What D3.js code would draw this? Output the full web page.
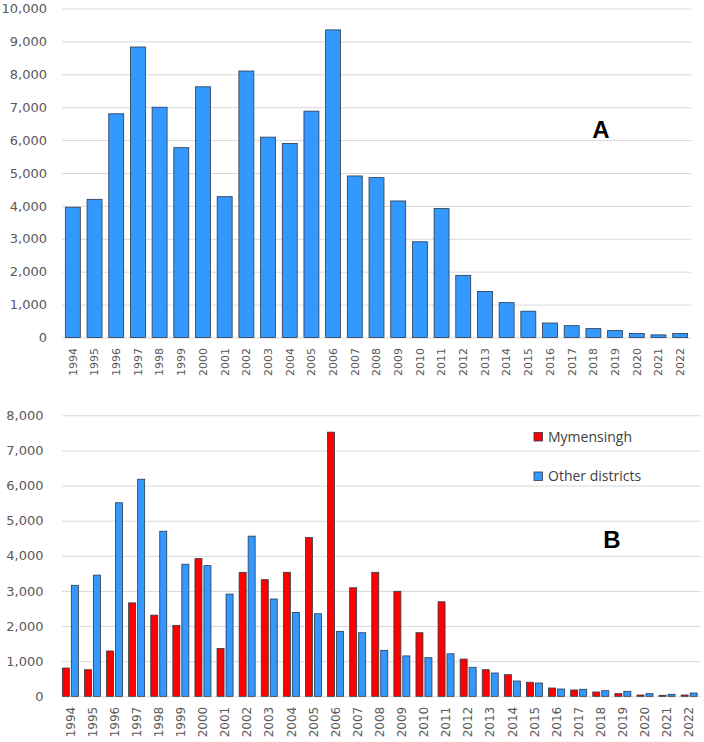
<!DOCTYPE html>
<html>
<head>
<meta charset="utf-8">
<script src="https://cdn.jsdelivr.net/npm/d3@7"></script>
<style>
  body { margin: 0; background: #fff; }
  .tick text { fill: #595959; font-family: "DejaVu Sans", sans-serif; }
  .grid line { stroke: #d9d9d9; }
</style>
</head>
<body>
<div id="chart"></div>
<script>
var years = [1994,1995,1996,1997,1998,1999,2000,2001,2002,2003,2004,2005,2006,2007,2008,
  2009,2010,2011,2012,2013,2014,2015,2016,2017,2018,2019,2020,2021,2022];

// panel A - all districts
var totalCases = [3960,4200,6800,8830,7000,5770,7620,4280,8100,6090,5900,6880,9350,4910,4860,
  4150,2910,3920,1890,1400,1060,800,440,360,270,210,120,80,120];

// panel B
var mymensingh = [805,757,1290,2660,2310,2020,3920,1360,3530,3320,3530,4520,7520,3090,3530,
  2990,1810,2690,1060,757,615,400,236,180,122,75,37,28,37];
var otherDistricts = [3160,3450,5510,6180,4700,3760,3720,2910,4560,2770,2390,2350,1850,1810,1310,
  1150,1100,1210,825,663,435,378,208,200,160,142,75,57,94];

var yTicksA = [0,1000,2000,3000,4000,5000,6000,7000,8000,9000,10000];
var yTicksB = [0,1000,2000,3000,4000,5000,6000,7000,8000];
var seriesNames = ["Mymensingh", "Other districts"];
var seriesColors = ["#ff0000", "#3399ff"];

var width = 704, height = 742;
var svg = d3.select("#chart").append("svg")
  .attr("width", width).attr("height", height);

var fmt = d3.format(",");

// ---------- panel A ----------
var xA = d3.scaleBand().domain(years).range([62, 691]).paddingInner(0.31).paddingOuter(0.155);
var yA = d3.scaleLinear().domain([0, 10000]).range([337.5, 8.5]);

svg.append("g").attr("class", "grid")
  .attr("transform", "translate(62,0)")
  .call(d3.axisLeft(yA).tickValues(yTicksA).tickSize(-(691 - 62)).tickFormat(fmt))
  .call(function (g) {
    g.select(".domain").remove();
    g.selectAll("text").attr("x", -15).style("font-size", "13px");
  });

svg.append("g").selectAll("rect")
  .data(totalCases)
  .join("rect")
  .attr("x", function (d, i) { return xA(years[i]); })
  .attr("y", function (d) { return yA(d); })
  .attr("width", xA.bandwidth())
  .attr("height", function (d) { return yA(0) - yA(d); })
  .attr("fill", "#3399ff")
  .attr("stroke", "#2b3a4a")
  .attr("stroke-width", 0.8);

svg.append("g")
  .attr("transform", "translate(0," + yA(0) + ")")
  .call(d3.axisBottom(xA).tickSize(0))
  .call(function (g) {
    g.select(".domain").remove();
    g.selectAll("text")
      .attr("transform", "rotate(-90)")
      .attr("text-anchor", "end")
      .attr("x", -10.5).attr("y", 0).attr("dy", "0.35em")
      .style("font-size", "11px");
  });

svg.append("text")
  .attr("x", 601).attr("y", 138)
  .attr("text-anchor", "middle")
  .style("font-family", "Liberation Sans, Arial, sans-serif")
  .style("font-weight", "bold").style("font-size", "24px")
  .text("A");

// ---------- panel B ----------
var xB = d3.scaleBand().domain(years).range([59.3, 700.2]).paddingInner(0.276).paddingOuter(0.138);
var xSub = d3.scaleBand().domain([0, 1]).range([0, xB.bandwidth()]).paddingInner(0.22);
var yB = d3.scaleLinear().domain([0, 8000]).range([696.3, 415.3]);

svg.append("g").attr("class", "grid")
  .attr("transform", "translate(62,0)")
  .call(d3.axisLeft(yB).tickValues(yTicksB).tickSize(-(701 - 62)).tickFormat(fmt))
  .call(function (g) {
    g.select(".domain").remove();
    g.selectAll("text").attr("x", -18.5).style("font-size", "13px");
  });

var seriesB = [mymensingh, otherDistricts];
var groups = svg.append("g").selectAll("g")
  .data(years)
  .join("g")
  .attr("transform", function (d) { return "translate(" + xB(d) + ",0)"; });

groups.selectAll("rect")
  .data(function (d, i) { return seriesB.map(function (s, k) { return {k: k, v: s[i]}; }); })
  .join("rect")
  .attr("x", function (d) { return xSub(d.k); })
  .attr("y", function (d) { return yB(d.v); })
  .attr("width", xSub.bandwidth())
  .attr("height", function (d) { return yB(0) - yB(d.v); })
  .attr("fill", function (d) { return seriesColors[d.k]; })
  .attr("stroke", "#2b3a4a")
  .attr("stroke-width", 0.8);

svg.append("g")
  .attr("transform", "translate(0," + yB(0) + ")")
  .call(d3.axisBottom(xB).tickSize(0))
  .call(function (g) {
    g.select(".domain").remove();
    g.selectAll("text")
      .attr("transform", "rotate(-90)")
      .attr("text-anchor", "end")
      .attr("x", -10.5).attr("y", 0).attr("dy", "0.35em")
      .style("font-size", "12px");
  });

// legend
var legend = svg.append("g").selectAll("g")
  .data(seriesNames)
  .join("g")
  .attr("transform", function (d, i) { return "translate(534," + (432.5 + i * 39.5) + ")"; });
legend.append("rect")
  .attr("width", 8.5).attr("height", 8.5)
  .attr("fill", function (d, i) { return seriesColors[i]; })
  .attr("stroke", "#2b3a4a").attr("stroke-width", 0.8);
legend.append("text")
  .attr("x", 14).attr("y", 4.5).attr("dy", "0.35em")
  .style("font-family", "Open Sans, sans-serif").style("font-size", "14px")
  .attr("fill", "#404040")
  .text(function (d) { return d; });

svg.append("text")
  .attr("x", 612).attr("y", 548)
  .attr("text-anchor", "middle")
  .style("font-family", "Liberation Sans, Arial, sans-serif")
  .style("font-weight", "bold").style("font-size", "24px")
  .text("B");
</script>
</body>
</html>
